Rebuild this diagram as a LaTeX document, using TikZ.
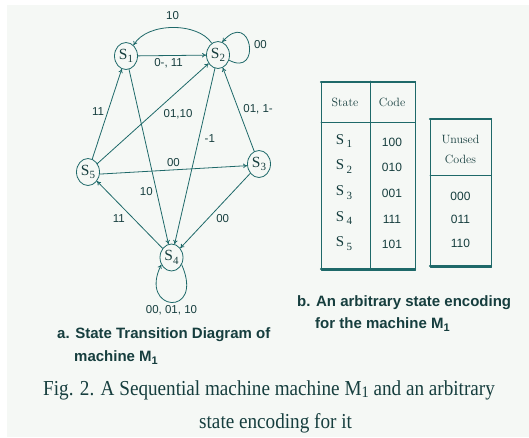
\documentclass[tikz,border=0pt]{standalone}
\usepackage{fontspec}
\newfontfamily\labfont{Liberation Sans}
\newfontfamily\capfont{Liberation Serif}
\newfontfamily\figfont[FakeStretch=0.9]{Liberation Serif}
\usetikzlibrary{shapes.geometric,arrows.meta}
\definecolor{inkcol}{RGB}{22,62,62}
\definecolor{linecol}{RGB}{30,105,105}
\definecolor{paper}{RGB}{245,248,245}
\newcommand{\stsub}[1]{\raisebox{-3.5pt}{\fontsize{11}{11}\selectfont #1}}

\begin{document}
\begin{tikzpicture}[x=1pt,y=-1pt,>={To[length=4pt,width=4.5pt]}, line join=round, line cap=round,
    state/.style={draw=linecol, line width=0.8pt, ellipse, minimum width=23pt, minimum height=27pt, inner sep=0pt,
      text=inkcol, font=\capfont\fontsize{15.5}{15.5}\selectfont},
    edge/.style={draw=linecol, line width=0.8pt, ->},
    lab/.style={text=inkcol, inner sep=1.5pt, font=\labfont\fontsize{11.5}{11.5}\selectfont},
    tabline/.style={draw=linecol, line width=0.8pt},
    tabhead/.style={text=inkcol, inner sep=0pt, font=\rmfamily\fontsize{12}{14}\selectfont},
    tabtxt/.style={text=inkcol, inner sep=0pt, font=\labfont\fontsize{12}{12}\selectfont},
    tabst/.style={text=inkcol, inner sep=0pt, font=\capfont\fontsize{15}{15}\selectfont},
    subcap/.style={text=inkcol, inner sep=0pt, anchor=base west, font=\labfont\bfseries\fontsize{15}{15}\selectfont},
    figcap/.style={text=inkcol, inner sep=0pt, anchor=base west, font=\figfont\fontsize{21.3}{21.3}\selectfont}]
  \useasboundingbox (0,0) rectangle (529,437);
  \fill[paper] (7,5) rectangle (529,437);

  % states
  \node[state] (s1) at (126,56) {S\stsub{1}};
  \node[state] (s2) at (218,55) {S\stsub{2}};
  \node[state] (s3) at (259,164) {S\stsub{3}};
  \node[state] (s4) at (171.5,257.5) {S\stsub{4}};
  \node[state] (s5) at (88,172) {S\stsub{5}};

  % transitions
  \draw[edge] (s1) -- node[lab,pos=0.45,below=1pt] {0-, 11} (s2);
  \draw[edge] (s2.118) .. controls (198,22) and (147,22) .. (s1.55)
    node[lab,pos=0.5,above=6pt] {10};
  \draw[edge] (s2.-25) .. controls (262,78) and (252,8) .. (s2.72)
    node[lab,pos=0.5,right=3pt] {00};
  \draw[edge] (s5) -- node[lab,pos=0.53,left=2pt] {11} (s1);
  \draw[edge] (s5) -- node[lab,pos=0.57,below right=1pt] {01,10} (s2);
  \draw[edge] (s1) -- node[lab,pos=0.7,left=2pt] {10} (s4);
  \draw[edge] (s2) -- node[lab,pos=0.4,right=4pt] {-1} (s4);
  \draw[edge] (s3) -- node[lab,midway,right=3pt] {01, 1-} (s2);
  \draw[edge] (s5.-10) -- node[lab,midway,above=1.5pt] {00} (s3.188);
  \draw[edge] (s3) -- node[lab,pos=0.52,below right=0.5pt] {00} (s4);
  \draw[edge] (s4) -- node[lab,pos=0.54,below left=0.5pt] {11} (s5);
  \draw[edge] (s4.-35) .. controls (205,318) and (138,312) .. (s4.-145)
    node[lab,pos=0.5,below=1pt] {00, 01, 10};

  % encoding table
  \draw[tabline] (321,81) rectangle (415,270);
  \draw[tabline] (370,81) -- (370,270);
  \draw[tabline] (321,122) -- (415,122);
  \draw[tabline, line width=2.2pt] (321,82) -- (415,82);
  \draw[tabline, line width=2.2pt] (321,269) -- (415,269);
  \node[tabhead] (hstate) at (345,102) {State};
  \node[tabhead] (hcode) at (392,102) {Code};
  \foreach \st/\code [count=\k from 0] in {1/100,2/010,3/001,4/111,5/101}{
    \node[tabst] (st\st) at (344,{141+25.7*\k}) {S\,\stsub{\st}};
    \node[tabtxt] (cd\st) at (392,{142+25.7*\k}) {\code};
  }

  % unused codes
  \draw[tabline] (430,118) rectangle (491,267);
  \draw[tabline] (430,175) -- (491,175);
  \draw[tabline, line width=2.2pt] (430,119) -- (491,119);
  \draw[tabline, line width=2.2pt] (430,266) -- (491,266);
  \node[tabhead] (hunused) at (460.5,139) {Unused};
  \node[tabhead] (hcodes) at (460.5,159) {Codes};
  \foreach \code [count=\k from 0] in {000,011,110}{
    \node[tabtxt] (uc\k) at (460.5,{196+23.5*\k}) {\code};
  }

  % captions
  \node[subcap] (capa1) at (57,338) {a. State Transition Diagram of};
  \node[subcap] (capa2) at (74,361) {machine M\stsub{1}};
  \node[subcap] (capb1) at (297,306.5) {b. An arbitrary state encoding};
  \node[subcap] (capb2) at (315,328) {for the machine M\stsub{1}};
  \node[figcap] (fig1) at (43,395) {Fig. 2. A Sequential machine machine M\raisebox{-2pt}{\fontsize{16}{16}\selectfont 1} and an arbitrary};
  \node[figcap] (fig2) at (199,428) {state encoding for it};
\end{tikzpicture}
\end{document}
